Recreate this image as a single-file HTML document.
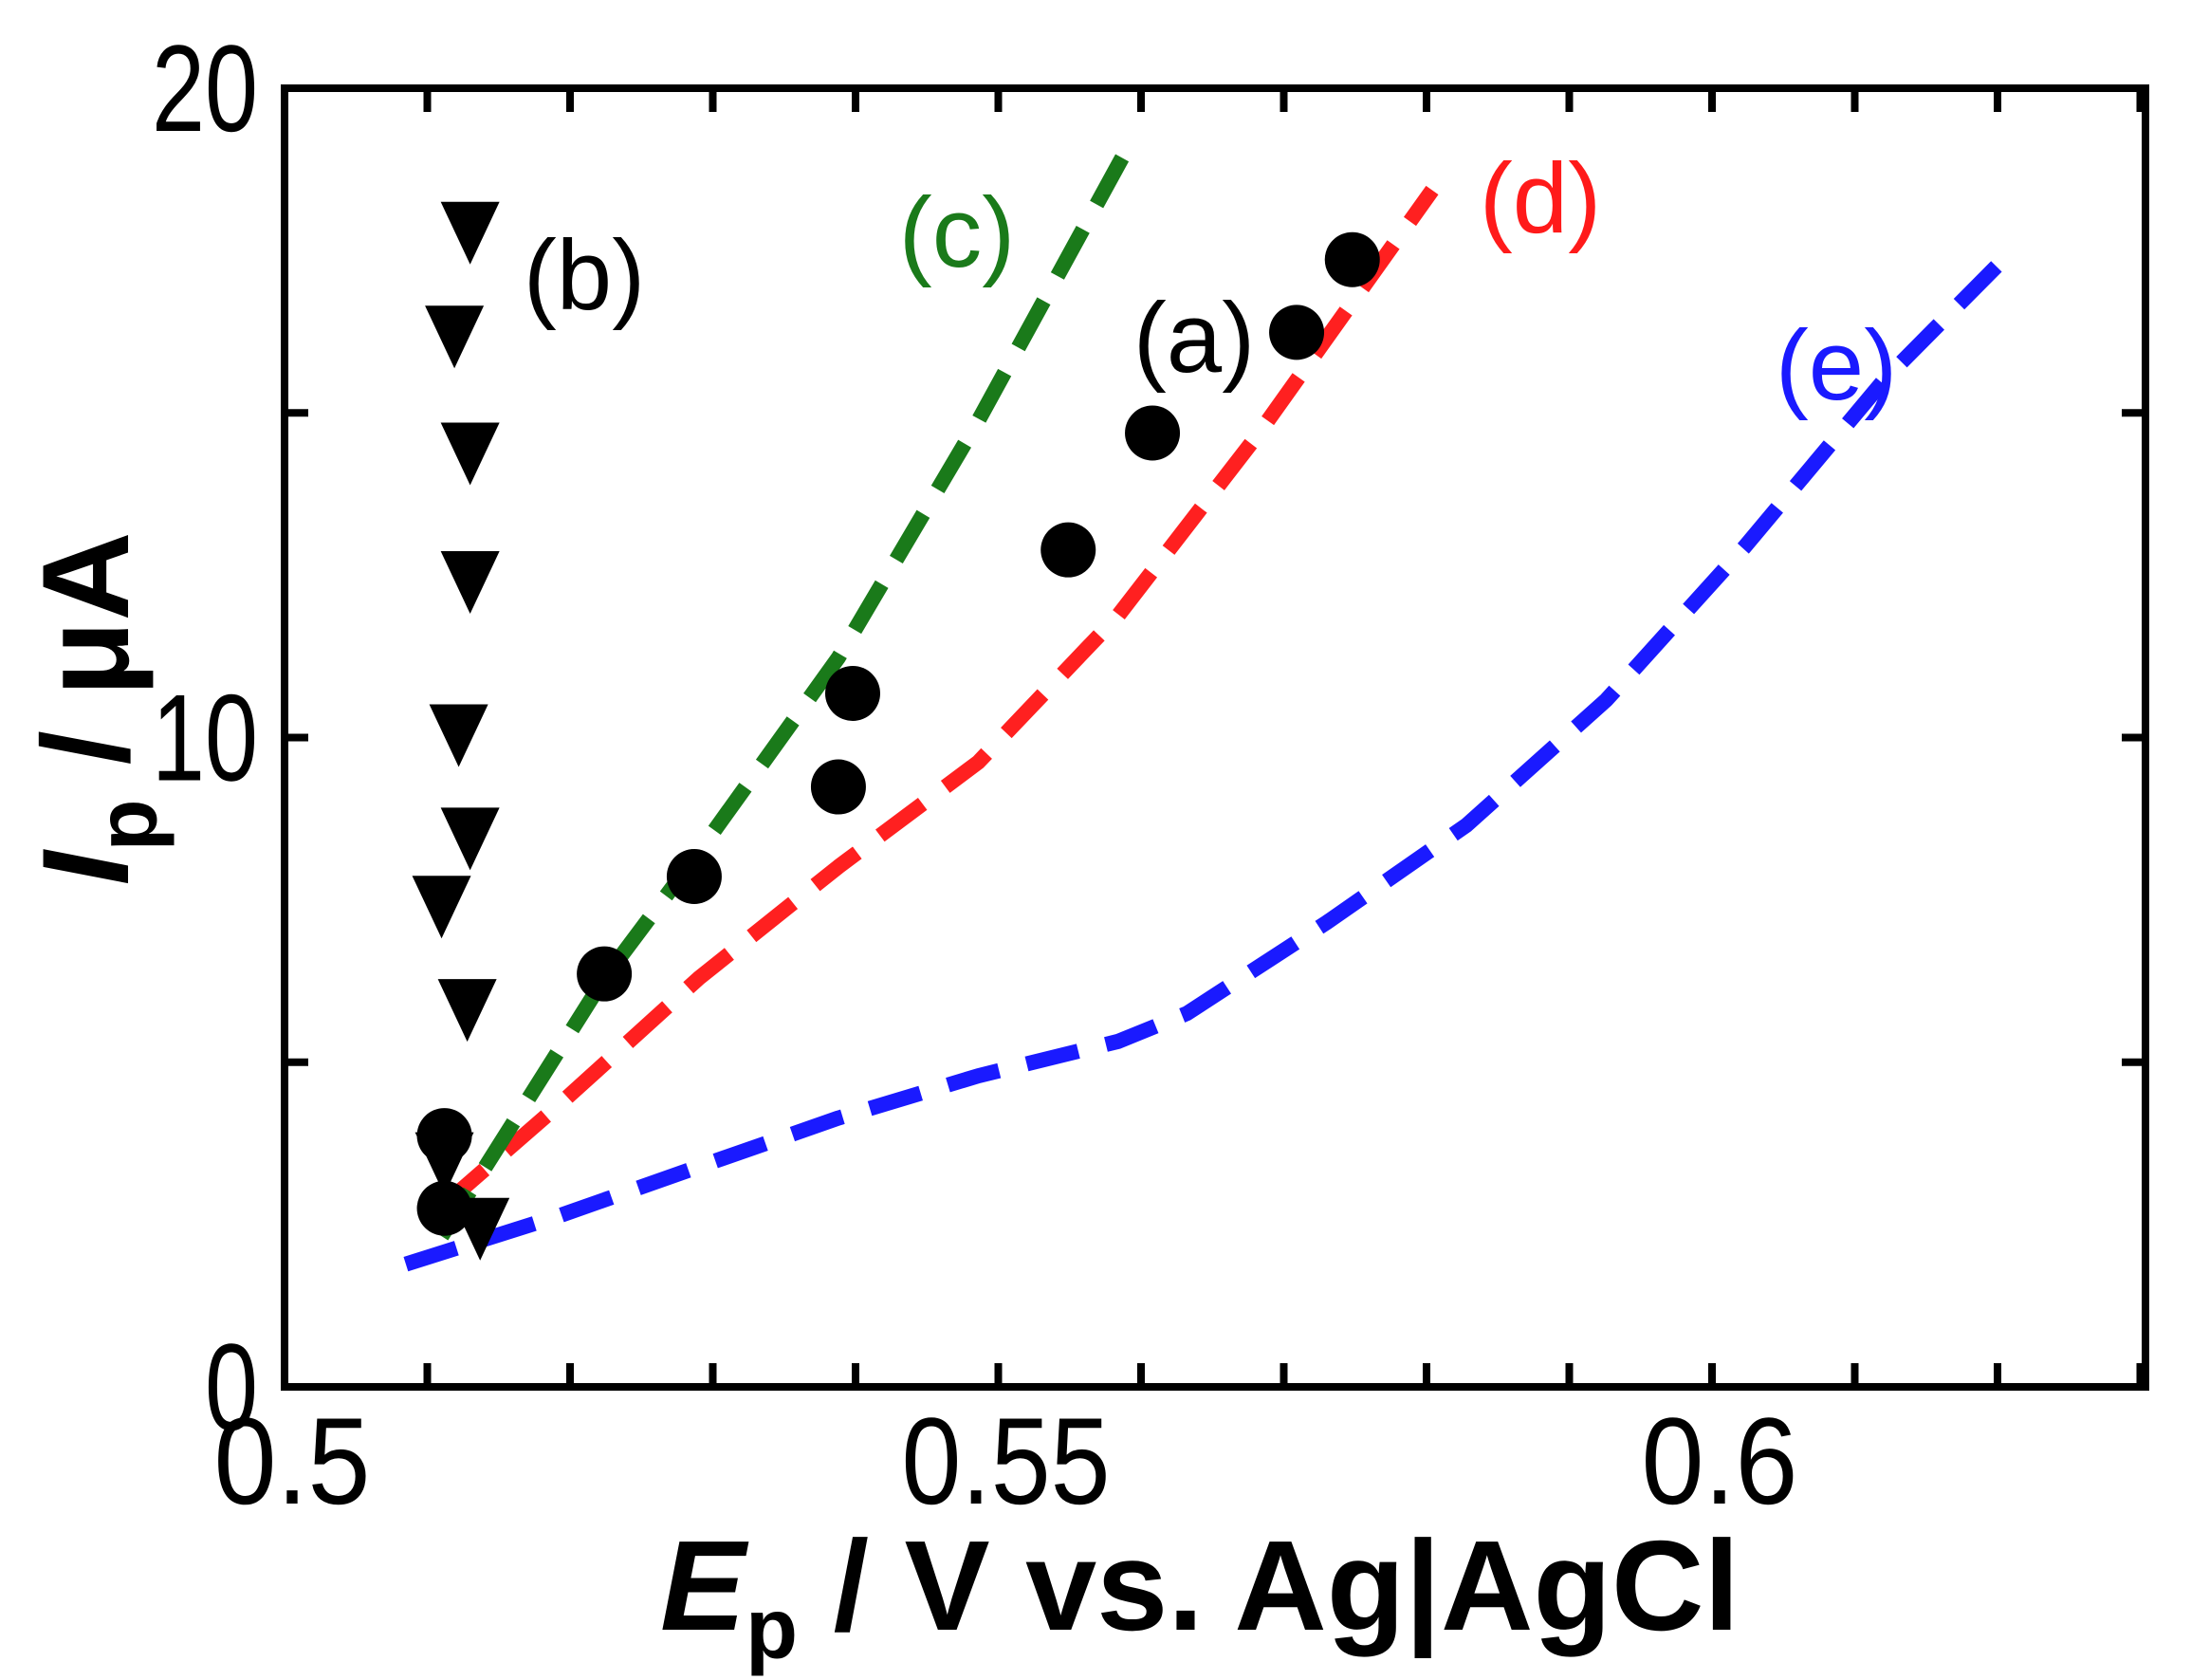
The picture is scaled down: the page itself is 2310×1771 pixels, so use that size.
<!DOCTYPE html>
<html><head><meta charset="utf-8"><style>
html,body{margin:0;padding:0;background:#fff;}
svg{display:block;font-family:"Liberation Sans",sans-serif;}
</style></head><body>
<svg id="chart" width="2310" height="1771" viewBox="0 0 2310 1771" xmlns="http://www.w3.org/2000/svg">
<g id="marks"></g>
<rect x="300" y="93" width="1962" height="1369" fill="none" stroke="#000" stroke-width="8"/>
<g id="ticks"></g>
<text x="1265" y="1718" text-anchor="middle" font-size="135" font-weight="bold"><tspan font-style="italic">E</tspan><tspan font-size="90" dy="30">p</tspan><tspan dy="-30"> / V vs. Ag|AgCl</tspan></text>
<text transform="translate(135,747) rotate(-90)" text-anchor="middle" font-size="130" font-weight="bold"><tspan font-style="italic">I</tspan><tspan font-size="90" dy="30">p</tspan><tspan dy="-30"> / μA</tspan></text>
<text x="1259" y="392" text-anchor="middle" font-size="105" fill="#000">(a)</text>
<text x="616" y="326" text-anchor="middle" font-size="105" fill="#000">(b)</text>
<text x="1009" y="281" text-anchor="middle" font-size="105" fill="#1a7a1a">(c)</text>
<text x="1624" y="245" text-anchor="middle" font-size="105" fill="#ff1a1a">(d)</text>
<text x="1936" y="421" text-anchor="middle" font-size="105" fill="#1a1aff">(e)</text>
</svg>
<script>
const xTicks = [0.5, 0.55, 0.6];
const xTickLabels = ["0.5", "0.55", "0.6"];
const yTicks = [0, 10, 20];
const yTickLabels = ["0", "10", "20"];
const aX = [0.5112, 0.5112, 0.5224, 0.5287, 0.5388, 0.5398, 0.5549, 0.5608, 0.5709, 0.5748];
const aY = [3.87, 2.75, 6.36, 7.86, 9.24, 10.68, 12.89, 14.69, 16.24, 17.36];
const bX = [0.5130, 0.5119, 0.5130, 0.5130, 0.5122, 0.5130, 0.5110, 0.5128, 0.5112, 0.5137];
const bY = [17.90, 16.30, 14.50, 12.52, 10.16, 8.57, 7.52, 5.93, 3.57, 2.56];
const cX = [0.5110, 0.5224, 0.5290, 0.5388, 0.5486, 0.5593];
const cY = [2.32, 6.29, 8.23, 11.23, 14.88, 19.18];
const dX = [0.5112, 0.5193, 0.5290, 0.5388, 0.5486, 0.5584, 0.5682, 0.5804];
const dY = [2.81, 4.36, 6.29, 8.01, 9.62, 11.88, 14.67, 18.43];
const eX = [0.5085, 0.5193, 0.5290, 0.5388, 0.5486, 0.5584, 0.5632, 0.5730, 0.5828, 0.5926, 0.6023, 0.6121, 0.6204];
const eY = [1.89, 2.64, 3.39, 4.14, 4.79, 5.32, 5.75, 7.15, 8.65, 10.58, 12.94, 15.52, 17.36];

const NS = "http://www.w3.org/2000/svg";
const X0 = 300, X1 = 2262, Y0 = 1462, Y1 = 93;
const xs = v => X0 + (v - 0.5) / 0.01 * 150.5;
const ys = v => Y0 - v / 20 * (Y0 - Y1);
const marks = document.getElementById('marks');
const ticks = document.getElementById('ticks');
function mk(tag, attrs, parent) {
  const el = document.createElementNS(NS, tag);
  for (const k in attrs) el.setAttribute(k, attrs[k]);
  parent.appendChild(el);
  return el;
}
for (let i = 1; i <= 13; i++) {
  const x = xs(0.5 + i * 0.01);
  if (x >= X1 - 5) continue;
  const t1 = mk('line', {x1: x, x2: x, y1: Y0, y2: Y0 - 25, stroke: '#000', 'stroke-width': 8}, ticks);
  
  
  const t2 = mk('line', {x1: x, x2: x, y1: Y1, y2: Y1 + 25, stroke: '#000', 'stroke-width': 8}, ticks);
  
  
}
for (let v = 5; v < 20; v += 5) {
  const y = ys(v);
  const t1 = mk('line', {x1: X0, x2: X0 + 25, y1: y, y2: y, stroke: '#000', 'stroke-width': 8}, ticks);
  
  
  const t2 = mk('line', {x1: X1, x2: X1 - 25, y1: y, y2: y, stroke: '#000', 'stroke-width': 8}, ticks);
  
  
}
xTicks.forEach((v, i) => {
  const t = mk('text', {x: xs(v) + 8, y: 1585, 'text-anchor': 'middle', 'font-size': 130, textLength: xTickLabels[i].length * 55, lengthAdjust: 'spacingAndGlyphs'}, ticks);
  t.textContent = xTickLabels[i];
  
  
});
yTicks.forEach((v, i) => {
  const t = mk('text', {x: 272, y: ys(v) + 45, 'text-anchor': 'end', 'font-size': 130, textLength: yTickLabels[i].length * 56, lengthAdjust: 'spacingAndGlyphs'}, ticks);
  t.textContent = yTickLabels[i];
  
  
});
function curve(X, Y, color, name) {
  const pts = X.map((x, i) => xs(x).toFixed(1) + ',' + ys(Y[i]).toFixed(1)).join(' ');
  const p = mk('polyline', {points: pts, fill: 'none', stroke: color, 'stroke-width': 16, 'stroke-dasharray': '56 30', 'stroke-linejoin': 'round'}, marks);
  
  
}
curve(eX, eY, '#1a1aff', 'curve-e');
curve(dX, dY, '#ff2020', 'curve-d');
curve(cX, cY, '#1a7a1a', 'curve-c');
aX.forEach((x, i) => {
  const c = mk('circle', {cx: xs(x), cy: ys(aY[i]), r: 29, fill: '#000'}, marks);
  
  
});
bX.forEach((x, i) => {
  const cx = xs(x), cy = ys(bY[i]);
  const p = mk('polygon', {points: `${cx-31},${cy-24} ${cx+31},${cy-24} ${cx},${cy+42}`, fill: '#000'}, marks);
  
  
});
</script>
</body></html>
